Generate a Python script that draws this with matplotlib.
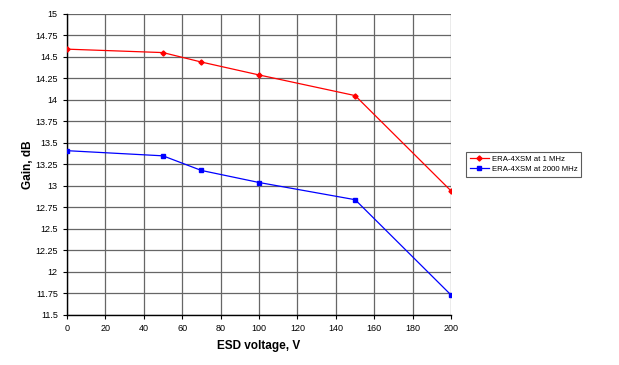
import matplotlib
matplotlib.use("Agg")
import matplotlib.pyplot as plt
import numpy as np

esd_v = [0, 50, 70, 100, 150, 200]
gain_1mhz = [14.59, 14.55, 14.44, 14.29, 14.05, 12.94]
gain_2000mhz = [13.41, 13.35, 13.18, 13.04, 12.84, 11.73]
x_ticks = list(range(0, 201, 20))
y_ticks = [11.5 + 0.25 * i for i in range(15)]
y_labels = ['11.5', '11.75', '12', '12.25', '12.5', '12.75', '13', '13.25', '13.5', '13.75', '14', '14.25', '14.5', '14.75', '15']

plt.rcParams['font.family'] = ['Liberation Sans', 'DejaVu Sans']
fig = plt.figure(figsize=(6.19, 3.65), dpi=100)
ax = fig.add_axes([0.108, 0.137, 0.621, 0.825])

ax.plot(esd_v, gain_1mhz, color='#ff0000', lw=0.9, marker='D', ms=2.6, label='ERA-4XSM at 1 MHz', zorder=3)
ax.plot(esd_v, gain_2000mhz, color='#0000ff', lw=0.9, marker='s', ms=3.2, label='ERA-4XSM at 2000 MHz', zorder=3)

ax.set_xlim(0, 200)
ax.set_ylim(11.5, 15)
ax.set_xticks(x_ticks)
ax.set_yticks(y_ticks)
ax.set_yticklabels(y_labels)
ax.tick_params(labelsize=6.5, length=3, width=0.8, direction='out', colors='black')
ax.grid(True, color='#666666', lw=0.9)
for s in ['top', 'right']:
    ax.spines[s].set_visible(False)
for s in ['left', 'bottom']:
    ax.spines[s].set_linewidth(1.0)

ax.set_xlabel('ESD voltage, V', fontsize=8.5, fontweight='bold', labelpad=5)
ax.set_ylabel('Gain, dB', fontsize=8.5, fontweight='bold', labelpad=1)

leg = ax.legend(loc='upper left', bbox_to_anchor=(1.039, 0.541), fontsize=5.6, frameon=True,
                fancybox=False, edgecolor='#333333', handlelength=2.5, borderpad=0.45,
                labelspacing=0.35, borderaxespad=0, handletextpad=0.3)
leg.get_frame().set_linewidth(0.8)

fig.savefig('out.png', dpi=100)
